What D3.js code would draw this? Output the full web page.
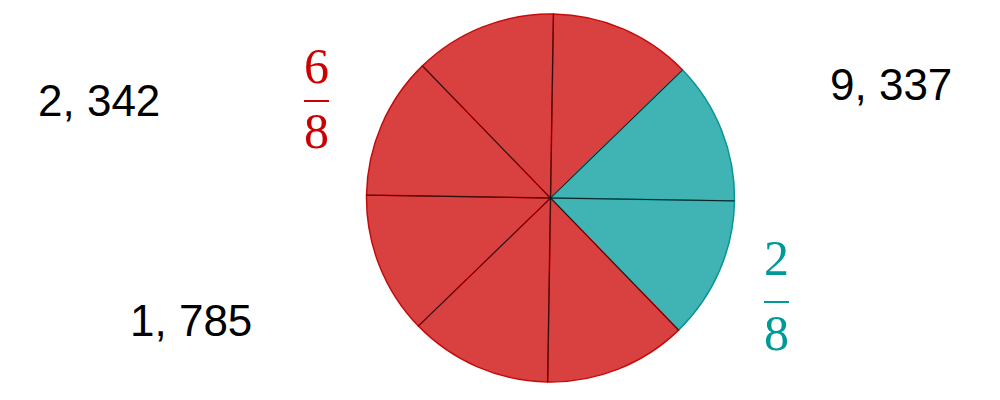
<!DOCTYPE html>
<html>
<head>
<meta charset="utf-8">
<script src="https://cdn.jsdelivr.net/npm/d3@7"></script>
<style>
  body { margin: 0; background: #fff; }
</style>
</head>
<body>
<svg id="chart" width="1000" height="400"></svg>
<script>
// pie of eighths: 2 teal, 6 red
var sliceCounts = [1, 1, 1, 1, 1, 1, 1, 1];
var sliceGroups = ["red", "teal", "teal", "red", "red", "red", "red", "red"];

var numberLabels = ["2, 342", "1, 785", "9, 337"];
var fracNumerators = ["6", "2"];
var fracDenominators = ["8", "8"];
var fracGroups = ["red", "teal"];

var fills = { red: "#d94141", teal: "#40b4b4" };
var strokes = { red: "#c40c0c", teal: "#0a9494" };
var textColors = { red: "#cc0000", teal: "#009999" };

var svg = d3.select("#chart"),
    cx = 550.5,
    cy = 198,
    radius = 184;

var tilt = 0.9 * Math.PI / 180;

var pie = d3.pie()
    .sort(null)
    .startAngle(tilt)
    .endAngle(2 * Math.PI + tilt);

var arc = d3.arc()
    .innerRadius(0)
    .outerRadius(radius);

var g = svg.append("g")
    .attr("transform", "translate(" + cx + "," + cy + ")");

var arcs = pie(sliceCounts);

g.selectAll("path.slice")
    .data(arcs)
    .enter().append("path")
    .attr("class", "slice")
    .attr("d", arc)
    .attr("fill", function (d, i) { return fills[sliceGroups[i]]; })
    .attr("stroke", function (d, i) { return strokes[sliceGroups[i]]; })
    .attr("stroke-width", 1.5)
    .attr("stroke-linejoin", "round");

// black radial dividers
g.selectAll("line.divider")
    .data(arcs)
    .enter().append("line")
    .attr("class", "divider")
    .attr("x1", 0)
    .attr("y1", 0)
    .attr("x2", function (d) { return radius * Math.sin(d.startAngle); })
    .attr("y2", function (d) { return -radius * Math.cos(d.startAngle); })
    .attr("stroke", "#111")
    .attr("stroke-width", 0.9);

// plain numbers
var numberPos = [[38, 116], [130, 336], [830, 100]];
svg.selectAll("text.num")
    .data(numberLabels)
    .enter().append("text")
    .attr("class", "num")
    .attr("x", function (d, i) { return numberPos[i][0]; })
    .attr("y", function (d, i) { return numberPos[i][1]; })
    .attr("font-family", "Liberation Sans, Arial, sans-serif")
    .attr("font-size", 44)
    .attr("fill", "#000")
    .text(function (d) { return d; });

// fractions
var fracPos = [[316.5, 83, 101, 148], [776.5, 275, 302, 350]];
var frac = svg.selectAll("g.frac")
    .data(fracNumerators)
    .enter().append("g")
    .attr("class", "frac")
    .attr("fill", function (d, i) { return textColors[fracGroups[i]]; })
    .attr("font-family", "Liberation Serif, Times New Roman, serif")
    .attr("font-size", 50)
    .attr("text-anchor", "middle");

frac.append("text")
    .attr("x", function (d, i) { return fracPos[i][0]; })
    .attr("y", function (d, i) { return fracPos[i][1]; })
    .text(function (d) { return d; });

frac.append("rect")
    .attr("x", function (d, i) { return fracPos[i][0] - 12.5; })
    .attr("y", function (d, i) { return fracPos[i][2] - 1; })
    .attr("width", 25)
    .attr("height", 2);

frac.append("text")
    .attr("x", function (d, i) { return fracPos[i][0]; })
    .attr("y", function (d, i) { return fracPos[i][3]; })
    .text(function (d, i) { return fracDenominators[i]; });
</script>
</body>
</html>
